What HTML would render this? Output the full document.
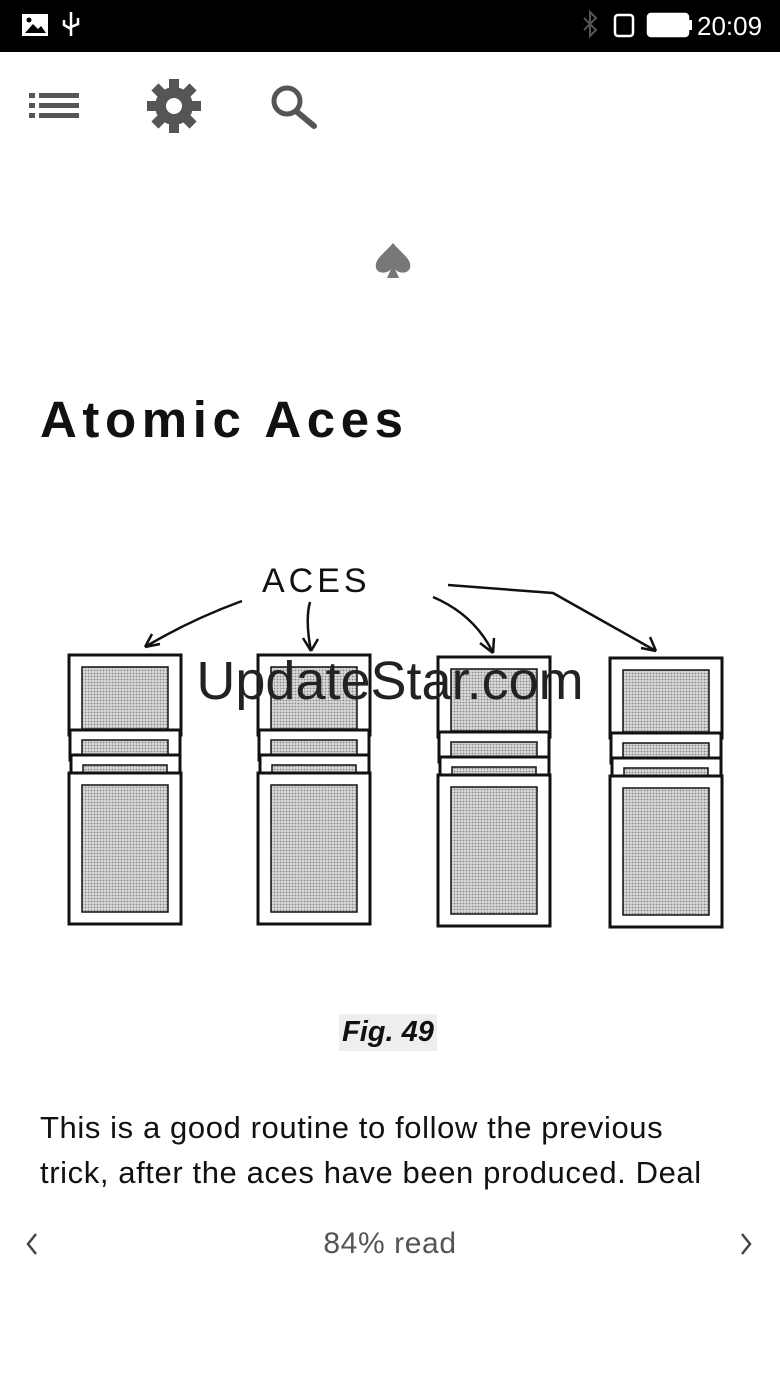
<!DOCTYPE html>
<html><head><meta charset="utf-8"><style>
body{margin:0;width:780px;height:1386px;background:#fff;position:relative;overflow:hidden;font-family:"Liberation Sans",sans-serif}
.abs{position:absolute}
</style></head><body>
<div class="abs" style="left:0;top:0;width:780px;height:52px;background:#000"></div>
<svg class="abs" style="left:0;top:0" width="780" height="140">
<rect x="22" y="14" width="26" height="22" fill="#fff"/><polygon points="25,33 33,24 38,29 41,26 46,33" fill="#000"/><circle cx="29" cy="20" r="2.5" fill="#000"/>
<path d="M71 12 V36 M64 20 V25 L71 29 M78 18 V24 L71 27" stroke="#fff" stroke-width="2.5" fill="none"/>
<path d="M584 18 L596 30 L590 36 V12 L596 18 L584 30" stroke="#555" stroke-width="2" fill="none"/>
<rect x="615" y="15" width="18" height="21" rx="3" stroke="#fff" stroke-width="2.5" fill="none"/>
<rect x="648" y="14" width="40" height="22" rx="3" stroke="#fff" stroke-width="2.5" fill="#fff"/><rect x="688" y="20" width="4" height="10" fill="#fff"/>
<text x="697" y="35" fill="#fff" font-size="26" font-family="Liberation Sans">20:09</text>
<g fill="#555"><rect x="29" y="93" width="6" height="5"/><rect x="29" y="103" width="6" height="5"/><rect x="29" y="113" width="6" height="5"/>
<rect x="39" y="93" width="40" height="5"/><rect x="39" y="103" width="40" height="5"/><rect x="39" y="113" width="40" height="5"/></g>
<g transform="translate(174,106)"><circle r="19" fill="#555"/><g fill="#555"><rect x="-5" y="-27" width="10" height="54"/><rect x="-5" y="-27" width="10" height="54" transform="rotate(45)"/><rect x="-5" y="-27" width="10" height="54" transform="rotate(90)"/><rect x="-5" y="-27" width="10" height="54" transform="rotate(135)"/></g><circle r="8" fill="#fff"/></g>
<circle cx="287" cy="101" r="13" stroke="#555" stroke-width="5" fill="none"/><line x1="296" y1="111" x2="314" y2="126" stroke="#555" stroke-width="6" stroke-linecap="round"/>
</svg>
<svg class="abs" style="left:372;top:240" width="42" height="40"><path d="M21 3 C12 14 2 19 4 28 C6 34 15 34 19 29 L15 38 H27 L23 29 C27 34 36 34 38 28 C40 19 30 14 21 3Z" fill="#777"/></svg>
<div class="abs" style="left:40px;top:390px;font-size:51px;font-weight:bold;letter-spacing:5.6px;color:#111">Atomic Aces</div>
<svg class="abs" style="left:0;top:540px" width="780" height="420">
<defs><pattern id="d" width="3" height="3" patternUnits="userSpaceOnUse"><rect width="3" height="3" fill="#d8d8d8"/><circle cx="1.5" cy="1.5" r="0.9" fill="#888"/></pattern></defs>
<text x="262" y="52" font-size="34" letter-spacing="4" font-family="Liberation Sans" fill="#111">ACES</text>
<g stroke="#111" stroke-width="2.5" fill="none">
<path d="M242 61 Q190 80 145 107"/><path d="M145 107 L160 104 M145 107 L152 94"/>
<path d="M310 62 Q305 80 311 111"/><path d="M311 111 L303 98 M311 111 L318 99"/>
<path d="M433 57 Q475 75 493 113"/><path d="M493 113 L480 103 M493 113 L494 98"/>
<path d="M448 45 L553 53 L656 111"/><path d="M656 111 L641 108 M656 111 L650 97"/>
</g>
<g stroke="#111" stroke-width="3">
<g id="s1">
<rect x="69" y="115" width="112" height="80" fill="#fff"/><rect x="82" y="127" width="86" height="62" fill="url(#d)" stroke-width="1.5"/>
<rect x="70" y="190" width="110" height="30" fill="#fff"/><rect x="82" y="200" width="86" height="15" fill="url(#d)" stroke-width="1.5"/>
<rect x="71" y="215" width="109" height="22" fill="#fff"/><rect x="83" y="225" width="84" height="8" fill="url(#d)" stroke-width="1.5"/>
<rect x="69" y="233" width="112" height="151" fill="#fff"/><rect x="82" y="245" width="86" height="127" fill="url(#d)" stroke-width="1.5"/>
</g>
<use href="#s1" x="189"/><use href="#s1" x="369" y="2"/><use href="#s1" x="541" y="3"/>
</g>
</svg>
<div class="abs" style="left:0;top:650px;width:780px;text-align:center;font-size:54px;color:#222">UpdateStar.com</div>
<div class="abs" style="left:339px;top:1014px;padding:2px 3px;background:#eee;font-size:29px;font-weight:bold;font-style:italic;color:#111">Fig. 49</div>
<div class="abs" style="left:40px;top:1105px;font-size:31px;letter-spacing:0.6px;line-height:45px;color:#111;white-space:nowrap">This is a good routine to follow the previous<br>trick, after the aces have been produced. Deal</div>
<svg class="abs" style="left:20px;top:1230px" width="740" height="30"><path d="M16 4 L8 14 L16 24" stroke="#444" stroke-width="2.5" fill="none"/><path d="M722 4 L730 14 L722 24" stroke="#444" stroke-width="2.5" fill="none"/></svg>
<div class="abs" style="left:0;top:1227px;width:780px;text-align:center;font-size:30px;letter-spacing:0.6px;color:#555">84% read</div>
</body></html>
